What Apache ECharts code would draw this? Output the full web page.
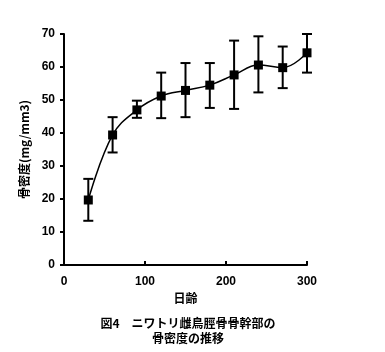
<!DOCTYPE html>
<html>
<head>
<meta charset="utf-8">
<script src="https://cdn.jsdelivr.net/npm/echarts@6/dist/echarts.min.js"></script>
<style>
  html, body { margin: 0; padding: 0; background: #fff; }
  #chart { width: 385px; height: 352px; }
</style>
</head>
<body>
<div id="chart"></div>
<script>
// 日齢
const days = [30, 60, 90, 120, 150, 180, 210, 240, 270, 300];
// mean bone density
const density = [19.7, 39.4, 47.0, 51.2, 52.9, 54.5, 57.6, 60.6, 59.8, 64.3];
// error bar ends
const upper = [26.1, 44.8, 49.8, 58.3, 61.2, 61.2, 68.0, 69.3, 66.2, 70.0];
const lower = [13.4, 34.1, 44.6, 44.5, 44.8, 47.6, 47.3, 52.3, 53.6, 58.3];

const fontLatin = '"Liberation Sans", Arial, sans-serif';
const fontJp = '"Noto Sans CJK JP", sans-serif';

const chart = echarts.init(document.getElementById("chart"));

const errData = days.map((d, i) => [d, lower[i], upper[i]]);

chart.setOption({
  animation: false,
  grid: { left: 64, right: 78, top: 34, bottom: 87 },
  xAxis: {
    type: "value",
    min: 0,
    max: 300,
    interval: 100,
    name: "日齢",
    nameLocation: "middle",
    nameGap: 27,
    nameTextStyle: { fontFamily: fontJp, fontWeight: "bold", fontSize: 12, color: "#000" },
    axisLine: { lineStyle: { color: "#000", width: 2 } },
    axisTick: { inside: true, length: 4, lineStyle: { color: "#000", width: 2 } },
    axisLabel: { fontFamily: fontLatin, fontWeight: "bold", fontSize: 12, color: "#000", margin: 11 },
    splitLine: { show: false },
  },
  yAxis: {
    type: "value",
    min: 0,
    max: 70,
    interval: 10,
    name: "骨密度(mg/mm3)",
    nameLocation: "middle",
    nameGap: 31,
    nameRotate: 90,
    nameTextStyle: { fontFamily: fontJp, fontWeight: "bold", fontSize: 12, color: "#000" },
    axisLine: { show: true, lineStyle: { color: "#000", width: 2 } },
    axisTick: { show: true, length: 4, lineStyle: { color: "#000", width: 2 } },
    axisLabel: { fontFamily: fontLatin, fontWeight: "bold", fontSize: 12, color: "#000", margin: 9 },
    splitLine: { show: false },
  },
  graphic: [
    {
      type: "text",
      x: 188,
      y: 316,
      style: {
        text: "図4　ニワトリ雌鳥脛骨骨幹部の\n骨密度の推移",
        textAlign: "center",
        font: 'bold 12px "Noto Sans CJK JP", sans-serif',
        lineHeight: 15,
        fill: "#000",
      },
    },
  ],
  series: [
    {
      type: "custom",
      data: errData,
      z: 3,
      renderItem: (params, api) => {
        const x = api.value(0);
        const lo = api.coord([x, api.value(1)]);
        const hi = api.coord([x, api.value(2)]);
        const w = 5;
        const style = { stroke: "#000", lineWidth: 2 };
        return {
          type: "group",
          children: [
            { type: "line", shape: { x1: lo[0], y1: lo[1], x2: hi[0], y2: hi[1] }, style },
            { type: "line", shape: { x1: hi[0] - w, y1: hi[1], x2: hi[0] + w, y2: hi[1] }, style },
            { type: "line", shape: { x1: lo[0] - w, y1: lo[1], x2: lo[0] + w, y2: lo[1] }, style },
          ],
        };
      },
    },
    {
      type: "line",
      data: days.map((d, i) => [d, density[i]]),
      smooth: 0.4,
      symbol: "rect",
      symbolSize: 9,
      z: 4,
      itemStyle: { color: "#000" },
      lineStyle: { color: "#000", width: 1.5 },
    },
  ],
});
</script>
</body>
</html>
